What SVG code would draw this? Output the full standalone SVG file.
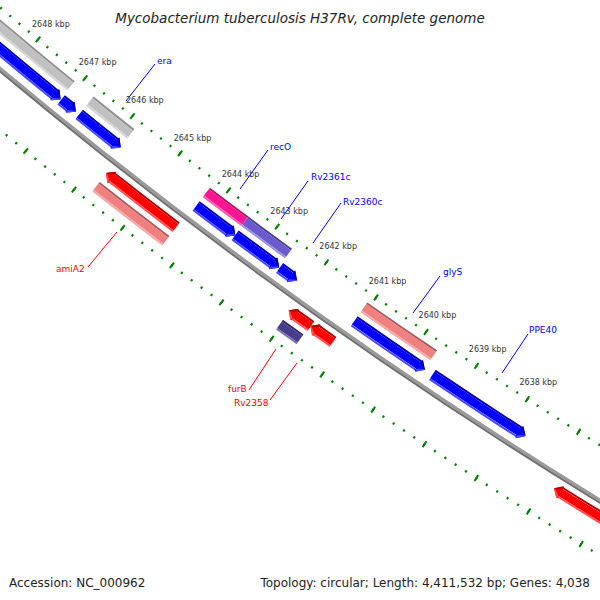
<svg xmlns="http://www.w3.org/2000/svg" xmlns:xlink="http://www.w3.org/1999/xlink" width="600" height="600" viewBox="0 0 600 600">
<style>
.t{font-family:"DejaVu Sans","Liberation Sans",sans-serif}
.mn{fill:none;stroke:#008000;stroke-width:2.4;stroke-dasharray:33 167;stroke-dashoffset:50.5}
.mj{fill:none;stroke:#008000;stroke-width:7;stroke-dasharray:33 967;stroke-dashoffset:650.5}
polygon{stroke:none}
.b0{stroke:#0000b0;fill:#0000b0}.b1{stroke:#0000ff;fill:#0000ff}.b2{stroke:#4848ff;fill:#4848ff}
.g0{stroke:#8e8e8e;fill:#8e8e8e}.g1{stroke:#c0c0c0;fill:#c0c0c0}.g2{stroke:#d6d6d6;fill:#d6d6d6}
.r0{stroke:#b00000;fill:#b00000}.r1{stroke:#ff0000;fill:#ff0000}.r2{stroke:#ff5252;fill:#ff5252}
.s0{stroke:#a85858;fill:#a85858}.s1{stroke:#f08080;fill:#f08080}.s2{stroke:#f6a8a8;fill:#f6a8a8}
.p0{stroke:#b0105f}.p1{stroke:#ff1493}.p2{stroke:#ff5cb0}
.v0{stroke:#4a3e8f}.v1{stroke:#6a5acd}.v2{stroke:#9a8fe0}
.d0{stroke:#2f2860}.d1{stroke:#483d8b}.d2{stroke:#7a70b0}
.lb{fill:#0000ff}.lr{fill:#ff0000}
.cb{stroke:#0000ff;stroke-width:1}.cr{stroke:#ff0000;stroke-width:1}
</style>
<defs>
<path id="t1" d="M-5018 0A5018 5018 0 1 1 5018 0A5018 5018 0 1 1 -5018 0" pathLength="518732"/>
<path id="t2" d="M-5112 0A5112 5112 0 1 1 5112 0A5112 5112 0 1 1 -5112 0" pathLength="518732"/>
<path id="rB0" fill="none" stroke-width="2" d="M-5028 0A5028 5028 0 1 1 5028 0A5028 5028 0 1 1 -5028 0" pathLength="518732"/>
<path id="rB1" fill="none" stroke-width="8" d="M-5033 0A5033 5033 0 1 1 5033 0A5033 5033 0 1 1 -5033 0" pathLength="518732"/>
<path id="rB2" fill="none" stroke-width="2" d="M-5038 0A5038 5038 0 1 1 5038 0A5038 5038 0 1 1 -5038 0" pathLength="518732"/>
<path id="rA0" fill="none" stroke-width="2" d="M-5045 0A5045 5045 0 1 1 5045 0A5045 5045 0 1 1 -5045 0" pathLength="518732"/>
<path id="rA1" fill="none" stroke-width="8" d="M-5050 0A5050 5050 0 1 1 5050 0A5050 5050 0 1 1 -5050 0" pathLength="518732"/>
<path id="rA2" fill="none" stroke-width="2" d="M-5055 0A5055 5055 0 1 1 5055 0A5055 5055 0 1 1 -5055 0" pathLength="518732"/>
<path id="rC0" fill="none" stroke-width="2" d="M-5074 0A5074 5074 0 1 1 5074 0A5074 5074 0 1 1 -5074 0" pathLength="518732"/>
<path id="rC1" fill="none" stroke-width="8" d="M-5079 0A5079 5079 0 1 1 5079 0A5079 5079 0 1 1 -5079 0" pathLength="518732"/>
<path id="rC2" fill="none" stroke-width="2" d="M-5084 0A5084 5084 0 1 1 5084 0A5084 5084 0 1 1 -5084 0" pathLength="518732"/>
<path id="rD0" fill="none" stroke-width="2" d="M-5091 0A5091 5091 0 1 1 5091 0A5091 5091 0 1 1 -5091 0" pathLength="518732"/>
<path id="rD1" fill="none" stroke-width="8" d="M-5096 0A5096 5096 0 1 1 5096 0A5096 5096 0 1 1 -5096 0" pathLength="518732"/>
<path id="rD2" fill="none" stroke-width="2" d="M-5101 0A5101 5101 0 1 1 5101 0A5101 5101 0 1 1 -5101 0" pathLength="518732"/>
</defs>
<rect width="600" height="600" fill="#ffffff"/>
<g id="map" transform="translate(3250 -3816) rotate(128.41)">
  <g id="backbone">
    <circle r="5064.5" fill="none" stroke="#999999" stroke-width="3"/>
    <circle r="5067" fill="none" stroke="#6e6e6e" stroke-width="2"/>
  </g>
  <g id="ticks">
    <use href="#t1" class="mn"/><use href="#t1" class="mj"/>
    <use href="#t2" class="mn"/><use href="#t2" class="mj"/>
  </g>
  <g id="kbp-labels" class="t" font-size="8" fill="#333333" text-anchor="middle">
    <g transform="rotate(1.388)"><text transform="translate(4998 0) rotate(-129.798)" dy="3">2648 kbp</text></g>
    <g transform="rotate(0.694)"><text transform="translate(4998 0) rotate(-129.104)" dy="3">2647 kbp</text></g>
    <g><text transform="translate(4998 0) rotate(-128.41)" dy="3">2646 kbp</text></g>
    <g transform="rotate(-0.694)"><text transform="translate(4998 0) rotate(-127.716)" dy="3">2645 kbp</text></g>
    <g transform="rotate(-1.388)"><text transform="translate(4998 0) rotate(-127.022)" dy="3">2644 kbp</text></g>
    <g transform="rotate(-2.082)"><text transform="translate(4998 0) rotate(-126.328)" dy="3">2643 kbp</text></g>
    <g transform="rotate(-2.776)"><text transform="translate(4998 0) rotate(-125.634)" dy="3">2642 kbp</text></g>
    <g transform="rotate(-3.47)"><text transform="translate(4998 0) rotate(-124.94)" dy="3">2641 kbp</text></g>
    <g transform="rotate(-4.164)"><text transform="translate(4998 0) rotate(-124.246)" dy="3">2640 kbp</text></g>
    <g transform="rotate(-4.858)"><text transform="translate(4998 0) rotate(-123.552)" dy="3">2639 kbp</text></g>
    <g transform="rotate(-5.552)"><text transform="translate(4998 0) rotate(-122.858)" dy="3">2638 kbp</text></g>
  </g>
  <!-- reverse strand genes (ring A) -->
  <g id="gene-a1">
    <g style="stroke-dasharray:4800 600000;stroke-dashoffset:-260566"><use href="#rA0" class="b0"/><use href="#rA1" class="b1"/><use href="#rA2" class="b2"/></g>
    <g transform="rotate(0.7634)"><polygon class="b1" points="5044,6.12 5050,0 5056,6.12 5056,6.8 5044,6.8"/><polygon class="b0" points="5050,0 5044,6.12 5046,6.12"/><polygon class="b2" points="5050,0 5056,6.12 5054,6.12"/></g>
  </g>
  <g id="gene-a2">
    <g style="stroke-dasharray:200 600000;stroke-dashoffset:-260246"><use href="#rA0" class="b0"/><use href="#rA1" class="b1"/><use href="#rA2" class="b2"/></g>
    <g transform="rotate(0.54132)"><polygon class="b1" points="5044,6.12 5050,0 5056,6.12 5056,6.8 5044,6.8"/><polygon class="b0" points="5050,0 5044,6.12 5046,6.12"/><polygon class="b2" points="5050,0 5056,6.12 5054,6.12"/></g>
  </g>
  <g id="gene-era">
    <g style="stroke-dasharray:760 600000;stroke-dashoffset:-259306"><use href="#rA0" class="b0"/><use href="#rA1" class="b1"/><use href="#rA2" class="b2"/></g>
    <g transform="rotate(-0.11104)"><polygon class="b1" points="5044,6.12 5050,0 5056,6.12 5056,6.8 5044,6.8"/><polygon class="b0" points="5050,0 5044,6.12 5046,6.12"/><polygon class="b2" points="5050,0 5056,6.12 5054,6.12"/></g>
  </g>
  <g id="gene-recO">
    <g style="stroke-dasharray:690 600000;stroke-dashoffset:-256946"><use href="#rA0" class="b0"/><use href="#rA1" class="b1"/><use href="#rA2" class="b2"/></g>
    <g transform="rotate(-1.74888)"><polygon class="b1" points="5044,6.12 5050,0 5056,6.12 5056,6.8 5044,6.8"/><polygon class="b0" points="5050,0 5044,6.12 5046,6.12"/><polygon class="b2" points="5050,0 5056,6.12 5054,6.12"/></g>
  </g>
  <g id="gene-Rv2361c">
    <g style="stroke-dasharray:780 600000;stroke-dashoffset:-256056"><use href="#rA0" class="b0"/><use href="#rA1" class="b1"/><use href="#rA2" class="b2"/></g>
    <g transform="rotate(-2.36654)"><polygon class="b1" points="5044,6.12 5050,0 5056,6.12 5056,6.8 5044,6.8"/><polygon class="b0" points="5050,0 5044,6.12 5046,6.12"/><polygon class="b2" points="5050,0 5056,6.12 5054,6.12"/></g>
  </g>
  <g id="gene-Rv2360c">
    <g style="stroke-dasharray:240 600000;stroke-dashoffset:-255696"><use href="#rA0" class="b0"/><use href="#rA1" class="b1"/><use href="#rA2" class="b2"/></g>
    <g transform="rotate(-2.61638)"><polygon class="b1" points="5044,6.12 5050,0 5056,6.12 5056,6.8 5044,6.8"/><polygon class="b0" points="5050,0 5044,6.12 5046,6.12"/><polygon class="b2" points="5050,0 5056,6.12 5054,6.12"/></g>
  </g>
  <g id="gene-glyS">
    <g style="stroke-dasharray:1290 600000;stroke-dashoffset:-253146"><use href="#rA0" class="b0"/><use href="#rA1" class="b1"/><use href="#rA2" class="b2"/></g>
    <g transform="rotate(-4.38608)"><polygon class="b1" points="5044,6.12 5050,0 5056,6.12 5056,6.8 5044,6.8"/><polygon class="b0" points="5050,0 5044,6.12 5046,6.12"/><polygon class="b2" points="5050,0 5056,6.12 5054,6.12"/></g>
  </g>
  <g id="gene-PPE40">
    <g style="stroke-dasharray:1710 600000;stroke-dashoffset:-251176"><use href="#rA0" class="b0"/><use href="#rA1" class="b1"/><use href="#rA2" class="b2"/></g>
    <g transform="rotate(-5.75326)"><polygon class="b1" points="5044,6.12 5050,0 5056,6.12 5056,6.8 5044,6.8"/><polygon class="b0" points="5050,0 5044,6.12 5046,6.12"/><polygon class="b2" points="5050,0 5056,6.12 5054,6.12"/></g>
  </g>
  <!-- ring B -->
  <g id="cog-b1" style="stroke-dasharray:4900 600000;stroke-dashoffset:-260466"><use href="#rB0" class="g0"/><use href="#rB1" class="g1"/><use href="#rB2" class="g2"/></g>
  <g id="cog-era" style="stroke-dasharray:860 600000;stroke-dashoffset:-259206"><use href="#rB0" class="g0"/><use href="#rB1" class="g1"/><use href="#rB2" class="g2"/></g>
  <g id="cog-recO" style="stroke-dasharray:790 600000;stroke-dashoffset:-256846"><use href="#rB0" class="p0"/><use href="#rB1" class="p1"/><use href="#rB2" class="p2"/></g>
  <g id="cog-Rv2361c" style="stroke-dasharray:890 600000;stroke-dashoffset:-255956"><use href="#rB0" class="v0"/><use href="#rB1" class="v1"/><use href="#rB2" class="v2"/></g>
  <g id="cog-glyS" style="stroke-dasharray:1390 600000;stroke-dashoffset:-253046"><use href="#rB0" class="s0"/><use href="#rB1" class="s1"/><use href="#rB2" class="s2"/></g>
  <!-- forward strand genes (ring C) -->
  <g id="gene-amiA2">
    <g style="stroke-dasharray:1330 600000;stroke-dashoffset:-257686"><use href="#rC0" class="r0"/><use href="#rC1" class="r1"/><use href="#rC2" class="r2"/></g>
    <g transform="rotate(-0.1735)"><polygon class="r1" points="5073,-6.15 5079,0 5085,-6.15 5085,-6.8 5073,-6.8"/><polygon class="r0" points="5079,0 5073,-6.15 5075,-6.15"/><polygon class="r2" points="5079,0 5085,-6.15 5083,-6.15"/></g>
  </g>
  <g id="gene-furB">
    <g style="stroke-dasharray:330 600000;stroke-dashoffset:-254966"><use href="#rC0" class="r0"/><use href="#rC1" class="r1"/><use href="#rC2" class="r2"/></g>
    <g transform="rotate(-2.75218)"><polygon class="r1" points="5073,-6.15 5079,0 5085,-6.15 5085,-6.8 5073,-6.8"/><polygon class="r0" points="5079,0 5073,-6.15 5075,-6.15"/><polygon class="r2" points="5079,0 5085,-6.15 5083,-6.15"/></g>
  </g>
  <g id="gene-Rv2358">
    <g style="stroke-dasharray:340 600000;stroke-dashoffset:-254526"><use href="#rC0" class="r0"/><use href="#rC1" class="r1"/><use href="#rC2" class="r2"/></g>
    <g transform="rotate(-3.0536)"><polygon class="r1" points="5073,-6.15 5079,0 5085,-6.15 5085,-6.8 5073,-6.8"/><polygon class="r0" points="5079,0 5073,-6.15 5075,-6.15"/><polygon class="r2" points="5079,0 5085,-6.15 5083,-6.15"/></g>
  </g>
  <g id="gene-c4">
    <g style="stroke-dasharray:6740 600000;stroke-dashoffset:-243366"><use href="#rC0" class="r0"/><use href="#rC1" class="r1"/><use href="#rC2" class="r2"/></g>
    <g transform="rotate(-6.35704)"><polygon class="r1" points="5073,-6.15 5079,0 5085,-6.15 5085,-6.8 5073,-6.8"/><polygon class="r0" points="5079,0 5073,-6.15 5075,-6.15"/><polygon class="r2" points="5079,0 5085,-6.15 5083,-6.15"/></g>
  </g>
  <!-- ring D -->
  <g id="cog-amiA2" style="stroke-dasharray:1430 600000;stroke-dashoffset:-257686"><use href="#rD0" class="s0"/><use href="#rD1" class="s1"/><use href="#rD2" class="s2"/></g>
  <g id="cog-furB" style="stroke-dasharray:410 600000;stroke-dashoffset:-254986"><use href="#rD0" class="d0"/><use href="#rD1" class="d1"/><use href="#rD2" class="d2"/></g>
</g>
<g id="connectors">
  <line class="cb" x1="155" y1="64" x2="126" y2="101"/>
  <line class="cb" x1="268" y1="150" x2="240" y2="189"/>
  <line class="cb" x1="308" y1="181" x2="281" y2="219"/>
  <line class="cb" x1="341" y1="203" x2="313" y2="243"/>
  <line class="cb" x1="440" y1="276" x2="413" y2="313"/>
  <line class="cb" x1="528" y1="334" x2="502" y2="373"/>
  <line class="cr" x1="88" y1="267" x2="117" y2="232"/>
  <line class="cr" x1="249" y1="390" x2="276" y2="349"/>
  <line class="cr" x1="270" y1="400" x2="297" y2="363"/>
</g>
<g id="gene-labels" class="t" font-size="9">
  <text class="lb" x="157" y="64">era</text>
  <text class="lb" x="270" y="150">recO</text>
  <text class="lb" x="311" y="180">Rv2361c</text>
  <text class="lb" x="343" y="205">Rv2360c</text>
  <text class="lb" x="443" y="275">glyS</text>
  <text class="lb" x="529" y="333">PPE40</text>
  <text class="lr" x="56" y="272">amiA2</text>
  <text class="lr" x="228" y="392">furB</text>
  <text class="lr" x="234" y="406">Rv2358</text>
</g>
<text id="title" class="t" x="300" y="22.5" text-anchor="middle" font-size="13.5" font-style="italic" fill="#222222">Mycobacterium tuberculosis H37Rv, complete genome</text>
<g id="footer" class="t" font-size="12" fill="#222222">
  <text x="9" y="587">Accession: NC_000962</text>
  <text x="590" y="587" text-anchor="end">Topology: circular; Length: 4,411,532 bp; Genes: 4,038</text>
</g>
</svg>
